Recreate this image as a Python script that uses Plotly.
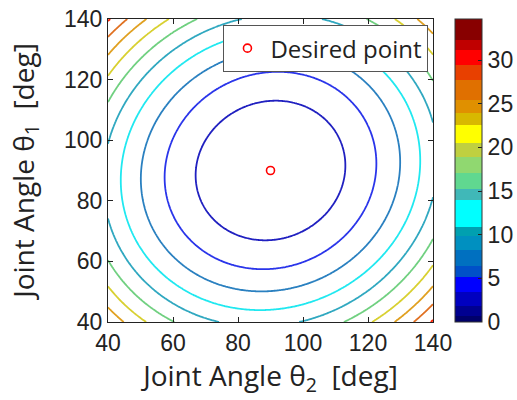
import numpy as np
import plotly.graph_objects as go

# ---- axis / tick data ----
theta2_range = [40, 140]
theta1_range = [40, 140]
axis_ticks = [40, 60, 80, 100, 120, 140]
cbar_ticks = [0, 5, 10, 15, 20, 25, 30]
z_min, z_max = 0, 34.7

# ---- desired point ----
desired_theta2 = [90]
desired_theta1 = [90]

# ---- cost surface (quadratic fitted to contour radii) ----
cost_center_theta2 = 90
cost_center_theta1 = 90
cost_scale = 176.0      # deg^2 per cost unit
cost_cross = 0.14       # cross-coupling term
contour_levels = [3, 6, 9, 12, 15, 18, 21, 24, 27, 30]

# ---- colorbar bands (value edges and colours) ----
band_edges = [0, 0.7, 1.8, 3.4, 5.2, 6.4, 8.3, 9.8, 10.9, 14.0, 15.2, 17.1,
              18.9, 20.5, 22.6, 23.9, 25.4, 27.7, 29.4, 31.1, 32.3, 34.7]
band_colors = ["#00006a", "#000090", "#0000c0", "#0000ff", "#0050c8", "#0070c0",
               "#0090c0", "#00a0b0", "#00ffff", "#40b8b8", "#60d890", "#90d870",
               "#c0d040", "#ffff00", "#d8b800", "#e09000", "#e07000", "#e84000",
               "#ff0000", "#c00000", "#880000"]
# line colours for each contour level
line_colors = ["#2020c0", "#2a35ea", "#2a80c0", "#20e8f0", "#30a8c0",
               "#70d080", "#d8d030", "#e0a020", "#e07020", "#ff2000"]

t2 = np.linspace(theta2_range[0], theta2_range[1], 241)
t1 = np.linspace(theta1_range[0], theta1_range[1], 241)
D2, D1 = np.meshgrid(t2 - cost_center_theta2, t1 - cost_center_theta1)
Z = (D1 ** 2 + D2 ** 2 - cost_cross * D1 * D2) / cost_scale

# plotly maps a 'lines' colorscale onto [first level, last level]
lv0, lv1 = contour_levels[0], contour_levels[-1]
line_scale = [[(lv - lv0) / (lv1 - lv0), c] for lv, c in zip(contour_levels, line_colors)]

span = z_max - z_min
band_scale = []
for i, c in enumerate(band_colors):
    band_scale.append([(band_edges[i] - z_min) / span, c])
    band_scale.append([(band_edges[i + 1] - z_min) / span, c])

tick_font = dict(family="Liberation Sans, Arial, sans-serif", size=23, color="#222")
title_font = dict(family="Open Sans, sans-serif", size=28, color="#222")

fig = go.Figure()
fig.add_trace(go.Contour(
    x=t2, y=t1, z=Z,
    autocontour=False,
    contours=dict(start=lv0, end=lv1,
                  size=contour_levels[1] - contour_levels[0], coloring="lines"),
    line=dict(width=1.8, smoothing=1),
    colorscale=line_scale,
    showscale=False, hoverinfo="skip", showlegend=False,
))
# colour bar carrier
fig.add_trace(go.Scatter(
    x=desired_theta2, y=desired_theta1, mode="markers", showlegend=False,
    hoverinfo="skip",
    marker=dict(size=1, opacity=0, color=[z_min], cmin=z_min, cmax=z_max,
                colorscale=band_scale, showscale=True,
                colorbar=dict(x=1.0687, xanchor="left", xpad=0, ypad=0,
                              y=0.5, yanchor="middle", len=1, lenmode="fraction",
                              thickness=27, outlinewidth=1, outlinecolor="#333",
                              tickvals=cbar_ticks, ticks="inside", ticklen=4,
                              tickcolor="#222", tickfont=tick_font)),
))
fig.add_trace(go.Scatter(
    x=desired_theta2, y=desired_theta1, mode="markers", name="Desired point",
    marker=dict(symbol="circle-open", size=8, color="red", line=dict(width=1.6)),
))

axis_common = dict(tickvals=axis_ticks, ticks="inside", ticklen=5, tickcolor="#222",
                   showline=True, linecolor="#222", linewidth=1.2, mirror="ticks",
                   showgrid=False, zeroline=False, tickfont=tick_font)
fig.update_layout(
    width=517, height=400,
    margin=dict(l=108, r=84.3, t=19, b=78, autoexpand=False),
    paper_bgcolor="white", plot_bgcolor="white",
    xaxis=dict(range=theta2_range,
               title=dict(text="Joint Angle θ<sub>2</sub>\u00a0 [deg]",
                          font=title_font, standoff=4), **axis_common),
    yaxis=dict(range=theta1_range,
               title=dict(text="Joint Angle θ<sub>1</sub>\u00a0 [deg]",
                          font=title_font, standoff=21), **axis_common),
    legend=dict(x=0.986, y=0.98, xanchor="right", yanchor="top",
                bgcolor="white", bordercolor="#555", borderwidth=1,
                itemwidth=36,
                font=dict(family="Open Sans, sans-serif", size=24, color="#222")),
)
fig.write_html("out.html", config={"displayModeBar": False},
               post_script="document.body.style.margin='0';")
